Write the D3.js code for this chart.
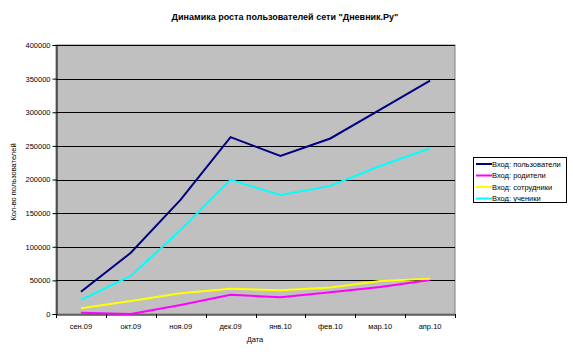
<!DOCTYPE html>
<html><head><meta charset="utf-8">
<script src="https://cdn.jsdelivr.net/npm/d3@7"></script>
<style>body{margin:0;background:#fff}svg{display:block;font-family:Arial,"Liberation Sans",sans-serif}</style>
</head><body><svg id="c" width="573" height="356"></svg>
<script>
const categories = ["сен.09","окт.09","ноя.09","дек.09","янв.10","фев.10","мар.10","апр.10"];
const usersTotal = [33000, 91000, 170000, 263000, 235000, 261000, 304000, 347000];
const parents = [2000, 0, 13500, 28500, 25000, 32500, 40000, 50500];
const staff = [8500, 19500, 31000, 37500, 35500, 39500, 49000, 52500];
const students = [21000, 56500, 125000, 199500, 177000, 190500, 220000, 246500];
const seriesNames = ["Вход: пользователи","Вход: родители","Вход: сотрудники","Вход: ученики"];
const seriesColors = ["#000080","#ff00ff","#ffff00","#00ffff"];
const yTicks = [0,50000,100000,150000,200000,250000,300000,350000,400000];

const series = [usersTotal, parents, staff, students];
const svg = d3.select("#c");
const L=56, R=455, T=45, B=314;
const x = d3.scaleBand().domain(categories).range([L,R]);
const y = d3.scaleLinear().domain([0,400000]).range([B,T]);

svg.append("rect").attr("x",L).attr("y",T).attr("width",R-L).attr("height",B-T).attr("fill","#c0c0c0").attr("stroke","#808080");
svg.append("g").selectAll("line").data(yTicks.slice(1)).join("line")
  .attr("x1",L).attr("x2",R).attr("y1",d=>Math.round(y(d))+0.5).attr("y2",d=>Math.round(y(d))+0.5)
  .attr("stroke","#000").attr("stroke-width",1);

const yAxis = svg.append("g").attr("transform",`translate(${L+0.5},0)`)
  .call(d3.axisLeft(y).tickValues(yTicks).tickFormat(d=>d).tickSize(4).tickPadding(2));
const xAxis = svg.append("g").attr("transform",`translate(0,${B+0.5})`)
  .call(d3.axisBottom(x).tickSize(0).tickPadding(9));
svg.append("g").selectAll("line").data(d3.range(categories.length+1)).join("line")
  .attr("x1",i=>Math.round(L+i*x.step())+0.5).attr("x2",i=>Math.round(L+i*x.step())+0.5)
  .attr("y1",B).attr("y2",B+4).attr("stroke","#000");
[yAxis,xAxis].forEach(g=>{
  g.selectAll("path").attr("stroke","#000");
  g.selectAll("line").attr("stroke","#000");
  g.selectAll("text").attr("font-size","7.5px").attr("fill","#000").attr("font-family","Arial, 'Liberation Sans', sans-serif");
});

const line = d3.line().x((d,i)=>x(categories[i])+x.bandwidth()/2).y(d=>y(d));
series.forEach((s,k)=>{
  svg.append("path").datum(s).attr("d",line).attr("fill","none")
    .attr("stroke",seriesColors[k]).attr("stroke-width",2);
});

svg.append("text").attr("x",285).attr("y",19.5).attr("text-anchor","middle")
  .attr("font-size","9px").attr("font-weight","bold").text('Динамика роста пользователей сети "Дневник.Ру"');
svg.append("text").attr("x",255).attr("y",342).attr("text-anchor","middle")
  .attr("font-size","7.5px").text("Дата");
svg.append("text").attr("transform","translate(16,182) rotate(-90)").attr("text-anchor","middle")
  .attr("font-size","7.5px").text("Кол-во пользователей");

const lg = svg.append("g");
lg.append("rect").attr("x",473.5).attr("y",157.5).attr("width",93).attr("height",45).attr("fill","#fff").attr("stroke","#000");
seriesNames.forEach((n,k)=>{
  const yy = 164 + k*11.5;
  lg.append("line").attr("x1",476).attr("x2",492).attr("y1",yy).attr("y2",yy).attr("stroke",seriesColors[k]).attr("stroke-width",2);
  lg.append("text").attr("x",492).attr("y",yy+2.5).attr("font-size","7.5px").text(n);
});
</script></body></html>
